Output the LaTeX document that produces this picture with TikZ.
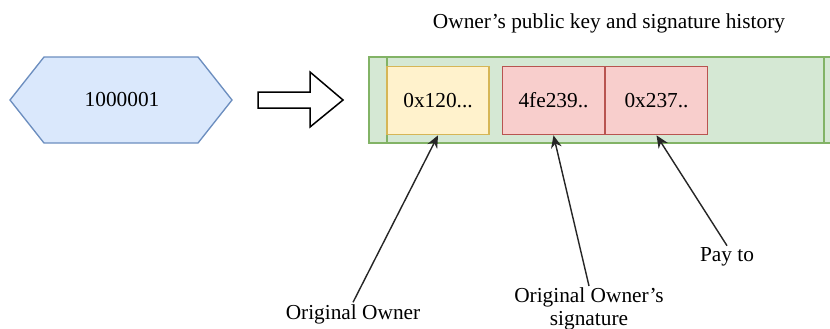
\documentclass[tikz,border=0pt]{standalone}
\usepackage{fontspec}
\setmainfont{Liberation Serif}
\usetikzlibrary{arrows.meta}
\definecolor{blueFill}{HTML}{DAE8FC}
\definecolor{blueLine}{HTML}{6C8EBF}
\definecolor{greenFill}{HTML}{D5E8D4}
\definecolor{greenLine}{HTML}{82B366}
\definecolor{yellowFill}{HTML}{FFF2CC}
\definecolor{yellowLine}{HTML}{D6B656}
\definecolor{redFill}{HTML}{F8CECC}
\definecolor{redLine}{HTML}{B85450}
\tikzset{
  field/.style={draw, line width=0.8pt, minimum width=61pt, minimum height=41pt, inner sep=0pt},
  label/.style={inner sep=1pt, align=center, font=\fontsize{12.8}{13.6}\selectfont},
  ptr/.style={-{Stealth[length=7.5pt, width=6.5pt]}, line width=0.85pt, black!85}
}
\begin{document}
\begin{tikzpicture}[x=0.6pt, y=-0.6pt, font=\fontsize{12.8}{13.6}\selectfont]
                \useasboundingbox (0,0) rectangle (830,328);
                \clip (0,0) rectangle (830,328);
                % Coin
                \draw[fill=blueFill, draw=blueLine, line width=0.8pt]
                  (10,100) -- (44,57) -- (198,57) -- (232,100) -- (198,143) -- (44,143) -- cycle;
                \node (coin) at (122,100) {1000001};
                % Block arrow
                \draw[line width=0.9pt, fill=white]
                  (258,92) -- (310,92) -- (310,72) -- (343,100) -- (310,127) -- (310,108) -- (258,108) -- cycle;
                % History record
                \node (title) at (609,23) {Owner’s public key and signature history};
                \draw[fill=greenFill, draw=greenLine, line width=0.8pt] (369,57) rectangle (845,143);
                \draw[greenLine, line width=0.8pt] (387,57) -- (387,143);
                \draw[greenLine, line width=0.8pt] (824,57) -- (824,143);
                \node[field, fill=yellowFill, draw=yellowLine, minimum width=61.2pt] (key) at (438,100.5) {0x120...};
                \node[field, fill=redFill, draw=redLine] (sig) at (553.5,100.5) {4fe239..};
                \node[field, fill=redFill, draw=redLine] (pay) at (656.5,100.5) {0x237..};
                % Labels
                \node[label] (orig) at (353,314) {Original Owner};
                \node[label] (origsig) at (589,309) {Original Owner’s\\signature};
                \node[label] (payto) at (727,257) {Pay to};
                % Pointers
                \draw[ptr] (orig.north) -- (key.south);
                \draw[ptr] (origsig.north) -- (sig.south);
                \draw[ptr] (payto.north) -- (pay.south);
            \end{tikzpicture}
\end{document}
